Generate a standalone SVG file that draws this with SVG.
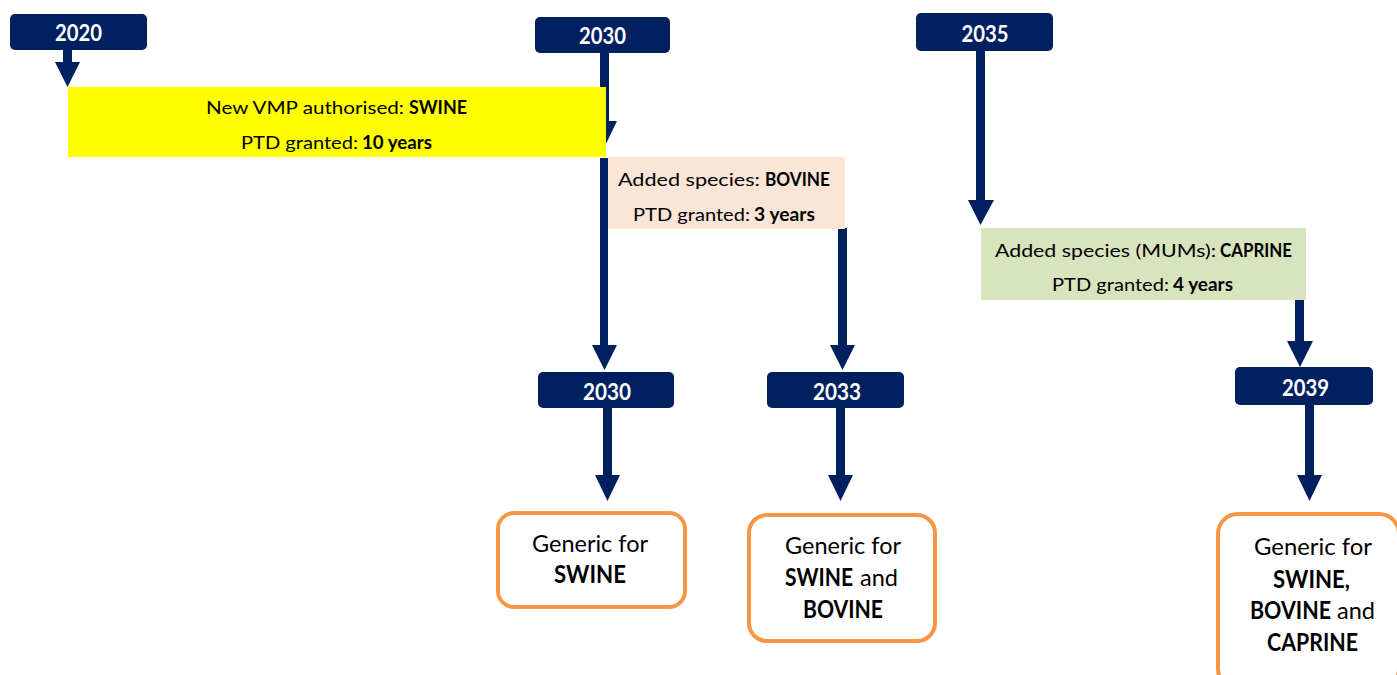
<svg xmlns="http://www.w3.org/2000/svg" width="1397" height="675" viewBox="0 0 1397 675">
<style>
.yr{fill:#002060}
.yt{font-family:Lato,"Open Sans",sans-serif;font-weight:bold;font-size:23px;fill:#fff;text-anchor:middle}
.bt{font-family:Lato,"Open Sans",sans-serif;font-size:18px;fill:#000}
.gt{font-family:Lato,"Open Sans",sans-serif;font-size:24px;fill:#000}
.m{text-anchor:middle}
.b{font-weight:bold}
.gen{fill:#fff;stroke:#F79646;stroke-width:4}
.ar{fill:#002060}
</style>
<rect width="1397" height="675" fill="#fff"/>
<g id="connectors">
<path class="ar" d="M63,50H72V62H80L67.5,87L55,62H63Z"/>
<path class="ar" d="M600,53H609V121H617L604.5,147L592,121H600Z"/>
<path class="ar" d="M600,158H608V345H617L604.5,370L592,345H600Z"/>
<path class="ar" d="M838,228H847V345H855L842.5,370L830,345H838Z"/>
<path class="ar" d="M976,51H985V200H994L980.5,225L968,200H976Z"/>
<path class="ar" d="M1295,300H1304V341H1313L1300,367L1287,341H1295Z"/>
<path class="ar" d="M603,408H612V475H620L607.5,501L595,475H603Z"/>
<path class="ar" d="M836,408H845V475H853L840.5,501L828,475H836Z"/>
<path class="ar" d="M1305,405H1314V475H1322L1309.5,501L1297,475H1305Z"/>
</g>
<g id="y2020"><rect class="yr" x="10" y="14" width="137" height="36" rx="5"/><text class="yt" x="78.5" y="41" textLength="47" lengthAdjust="spacingAndGlyphs">2020</text></g>
<g id="y2030a"><rect class="yr" x="535" y="17" width="135" height="36" rx="5"/><text class="yt" x="602.5" y="44" textLength="47" lengthAdjust="spacingAndGlyphs">2030</text></g>
<g id="y2035"><rect class="yr" x="916" y="13" width="137" height="38" rx="5"/><text class="yt" x="985" y="42" textLength="47" lengthAdjust="spacingAndGlyphs">2035</text></g>
<g id="swine"><rect x="68" y="87" width="538" height="70" fill="#FFFF00"/>
<text class="bt" x="206" y="114" textLength="198" lengthAdjust="spacingAndGlyphs">New VMP authorised:</text>
<text class="bt b" x="409" y="114" textLength="58" lengthAdjust="spacingAndGlyphs">SWINE</text>
<text class="bt" x="241" y="149" textLength="117" lengthAdjust="spacingAndGlyphs">PTD granted:</text>
<text class="bt b" x="362" y="149" textLength="70" lengthAdjust="spacingAndGlyphs">10 years</text></g>
<g id="bovine"><rect x="608" y="157" width="237" height="72" fill="#FBE5D6"/>
<text class="bt" x="618" y="186" textLength="142" lengthAdjust="spacingAndGlyphs">Added species:</text>
<text class="bt b" x="765" y="186" textLength="65" lengthAdjust="spacingAndGlyphs">BOVINE</text>
<text class="bt" x="633" y="221" textLength="117" lengthAdjust="spacingAndGlyphs">PTD granted:</text>
<text class="bt b" x="754" y="221" textLength="61" lengthAdjust="spacingAndGlyphs">3 years</text></g>
<g id="caprine"><rect x="981" y="228" width="325" height="72" fill="#D7E4BD"/>
<text class="bt" x="995" y="257" textLength="221" lengthAdjust="spacingAndGlyphs">Added species (MUMs):</text>
<text class="bt b" x="1220" y="257" textLength="72" lengthAdjust="spacingAndGlyphs">CAPRINE</text>
<text class="bt" x="1052" y="291" textLength="117" lengthAdjust="spacingAndGlyphs">PTD granted:</text>
<text class="bt b" x="1173" y="291" textLength="60" lengthAdjust="spacingAndGlyphs">4 years</text></g>
<g id="y2030b"><rect class="yr" x="538" y="372" width="136" height="36" rx="5"/><text class="yt" x="607" y="400" textLength="48" lengthAdjust="spacingAndGlyphs">2030</text></g>
<g id="y2033"><rect class="yr" x="767" y="372" width="137" height="36" rx="5"/><text class="yt" x="837" y="400" textLength="48" lengthAdjust="spacingAndGlyphs">2033</text></g>
<g id="y2039"><rect class="yr" x="1235" y="367" width="138" height="38" rx="5"/><text class="yt" x="1305.5" y="396" textLength="47" lengthAdjust="spacingAndGlyphs">2039</text></g>
<g id="gen1"><rect class="gen" x="498" y="513" width="187" height="94" rx="16"/>
<text class="gt m" x="590" y="552" textLength="116" lengthAdjust="spacingAndGlyphs">Generic for</text>
<text class="gt m b" x="590" y="583" textLength="72" lengthAdjust="spacingAndGlyphs">SWINE</text></g>
<g id="gen2"><rect class="gen" x="749" y="515" width="186" height="126" rx="18"/>
<text class="gt m" x="843" y="554" textLength="116" lengthAdjust="spacingAndGlyphs">Generic for</text>
<text class="gt b" x="785" y="586" textLength="68" lengthAdjust="spacingAndGlyphs">SWINE</text>
<text class="gt" x="860" y="586" textLength="38" lengthAdjust="spacingAndGlyphs">and</text>
<text class="gt m b" x="843" y="618" textLength="80" lengthAdjust="spacingAndGlyphs">BOVINE</text></g>
<g id="gen3"><rect class="gen" x="1218" y="514" width="181" height="175" rx="20"/>
<text class="gt m" x="1313" y="555" textLength="118" lengthAdjust="spacingAndGlyphs">Generic for</text>
<text class="gt b" x="1273" y="588" textLength="77" lengthAdjust="spacingAndGlyphs">SWINE,</text>
<text class="gt b" x="1250" y="619" textLength="81" lengthAdjust="spacingAndGlyphs">BOVINE</text>
<text class="gt" x="1337" y="619" textLength="38" lengthAdjust="spacingAndGlyphs">and</text>
<text class="gt m b" x="1312.5" y="651" textLength="91" lengthAdjust="spacingAndGlyphs">CAPRINE</text></g>
</svg>
